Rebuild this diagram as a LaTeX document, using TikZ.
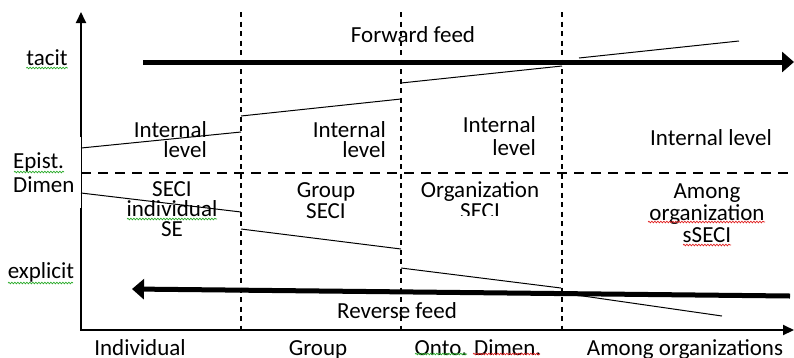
\documentclass[tikz,border=0pt]{standalone}
\usepackage{fontspec}
\setmainfont{Carlito}
\usetikzlibrary{arrows.meta,decorations.pathmorphing,calc}

\begin{document}
\begin{tikzpicture}[x=1pt,y=-1pt,
  lbl/.style={font=\fontsize{23}{21}\selectfont, inner sep=0pt, text=black},
  axis/.style={line width=2pt},
  axishead/.style={-{Triangle[length=11pt,width=10pt]}},
  colsep/.style={line width=1.6pt, dash pattern=on 5pt off 4.5pt},
  levelsep/.style={line width=2pt, dash pattern=on 10pt off 7pt},
  feed/.style={line width=5pt, -{Triangle[length=12pt,width=20pt]}},
  slope/.style={line width=1pt},
  spell/.style={decorate, decoration={snake, amplitude=0.8pt, segment length=3pt}, line width=0.7pt},
  spellok/.style={spell, draw=spellgreen},
  spellbad/.style={spell, draw=spellred},
]
\definecolor{spellgreen}{RGB}{40,170,40}
\definecolor{spellred}{RGB}{225,30,30}
\useasboundingbox (0,0) rectangle (794,357);

% column separators and the tacit/explicit separator
\coordinate (c1t) at (241,12);  \coordinate (c1b) at (241,330);
\coordinate (c2t) at (401,12);  \coordinate (c2b) at (401,330);
\coordinate (c3t) at (562,12);  \coordinate (c3b) at (562,330);
\draw[colsep] (c1t) -- (c1b);
\draw[colsep] (c2t) -- (c2b);
\draw[colsep] (c3t) -- (c3b);
\coordinate (hl) at (81,173); \coordinate (hr) at (794,173);
\draw[levelsep] (hl) -- (hr);

% axes
\coordinate (ytop) at (81,12);
\coordinate (ybreak1) at (81,137);
\coordinate (ybreak2) at (81,208);
\coordinate (origin) at (81,330);
\coordinate (xend) at (794,330);
\draw[axis, axishead] (ybreak1) -- (ytop);
\draw[line width=0.8pt] (ybreak1) -- (ybreak2);
\draw[axis, axishead] (ybreak2) -- (origin) -- (xend);

% feed arrows
\coordinate (ffs) at (143,62);  \coordinate (ffe) at (794,62);
\coordinate (rfs) at (790,296); \coordinate (rfe) at (132,289);
\draw[feed] (ffs) -- (ffe);
\draw[feed] (rfs) -- (rfe);

% rising upper boundaries of the internal levels
\coordinate (u1a) at (81,148);  \coordinate (u1b) at (241,132);
\coordinate (u2a) at (241,116); \coordinate (u2b) at (401,99);
\coordinate (u3a) at (401,83);  \coordinate (u3b) at (562,66);
\coordinate (u4a) at (579,58);  \coordinate (u4b) at (739,41);
\draw[slope] (u1a) -- (u1b);
\draw[slope] (u2a) -- (u2b);
\draw[slope] (u3a) -- (u3b);
\draw[slope] (u4a) -- (u4b);

% falling lower boundaries of the SECI regions
\coordinate (d1a) at (81,193);  \coordinate (d1b) at (241,212);
\coordinate (d2a) at (241,229); \coordinate (d2b) at (401,249);
\coordinate (d3a) at (401,268); \coordinate (d3b) at (561,288);
\coordinate (d4a) at (576,295); \coordinate (d4b) at (722,316);
\draw[slope] (d1a) -- (d1b);
\draw[slope] (d2a) -- (d2b);
\draw[slope] (d3a) -- (d3b);
\draw[slope] (d4a) -- (d4b);

% axis labels (multi-line nodes are anchored on their last baseline)
\node[lbl, anchor=base] (tacit) at (47,65) {tacit};
\node[lbl, anchor=base west, align=left, font=\fontsize{23}{24}\selectfont] (epist) at (13,192) {Epist.\\Dimen};
\node[lbl, anchor=base] (explicit) at (41,278) {explicit};
\node[lbl, anchor=base] (forward) at (413,42) {Forward feed};
\node[lbl, anchor=base] (reverse) at (397,318) {Reverse feed};
\node[lbl, anchor=base] (xind) at (140,355) {Individual};
\node[lbl, anchor=base] (xgrp) at (318,355) {Group};
\node[lbl, anchor=base] (xonto) at (478,355) {Onto. Dimen.};
\node[lbl, anchor=base] (xamong) at (685,355) {Among organizations};

% region labels
\node[lbl, anchor=base east, align=right, font=\fontsize{23}{20}\selectfont] (int1) at (207,157) {Internal\\level};
\node[lbl, anchor=base east, align=right, font=\fontsize{23}{20}\selectfont] (int2) at (386,157) {Internal\\level};
\node[lbl, anchor=base east, align=right, font=\fontsize{23}{23}\selectfont] (int3) at (536,155) {Internal\\level};
\node[lbl, anchor=base] (int4) at (711,145) {Internal level};
\node[lbl, anchor=base, align=center, font=\fontsize{23}{20}\selectfont] (seci1) at (172,236) {SECI\\individual\\SE};
\node[lbl, anchor=base, align=center] (seci2) at (326,218) {Group\\SECI};
\begin{scope}
  \clip (402,175) rectangle (560,215);
  \node[lbl, anchor=base, align=center] (seci3) at (480,218) {Organization\\SECI};
\end{scope}
\node[lbl, anchor=base, align=center, font=\fontsize{23}{22}\selectfont] (seci4) at (707,242) {Among\\organization\\sSECI};

% proofing marks under the words
\draw[spellok] ($(tacit.base west)+(0,3)$) -- ($(tacit.base east)+(0,3)$);
\draw[spellok] (14,172) -- (64,172);
\draw[spellok] (8,283) -- (73,283);
\draw[spellok] (127,219) -- (217,219);
\draw[spellok] (415,354) -- (467,354);
\draw[spellbad] (473,354) -- (540,354);
\draw[spellbad] (648,222) -- (765,222);
\draw[spellbad] (683,245) -- (731,245);
\end{tikzpicture}
\end{document}
